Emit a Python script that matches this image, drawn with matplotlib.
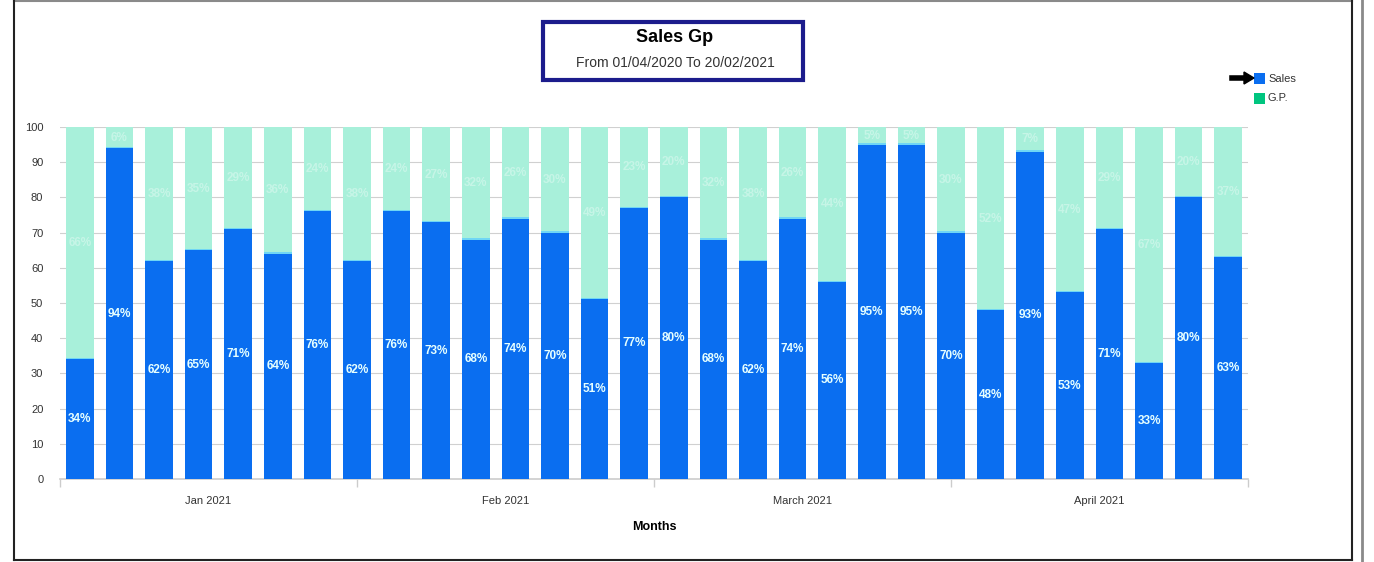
import matplotlib
matplotlib.use("Agg")
import matplotlib.pyplot as plt
from matplotlib.patches import Rectangle
import numpy as np

sales = [34, 94, 62, 65, 71, 64, 76, 62, 76, 73, 68, 74, 70, 51, 77,
         80, 68, 62, 74, 56, 95, 95, 70, 48, 93, 53, 71, 33, 80, 63]
gp = [100 - s for s in sales]
months = ["Jan 2021", "Feb 2021", "March 2021", "April 2021"]
yticks = [0, 10, 20, 30, 40, 50, 60, 70, 80, 90, 100]

W, H = 1374, 562
fig = plt.figure(figsize=(W / 100, H / 100), dpi=100)
plt.rcParams['font.family'] = ['Liberation Sans', 'DejaVu Sans']

def fx(px):
    return px / W

def fy(py):
    return 1 - py / H

# outer frame lines
fig.add_artist(plt.Line2D([fx(14), fx(1352)], [fy(1), fy(1)], color="#8a8a8a", lw=1.5))
fig.add_artist(plt.Line2D([fx(14), fx(14)], [fy(1), fy(560)], color="#222222", lw=1.5))
fig.add_artist(plt.Line2D([fx(14), fx(1352)], [fy(559.5), fy(559.5)], color="#222222", lw=1.5))
fig.add_artist(plt.Line2D([fx(1352), fx(1352)], [fy(1), fy(560)], color="#222222", lw=1.5))
fig.add_artist(plt.Line2D([fx(1362), fx(1362)], [fy(0), fy(562)], color="#8a8a8a", lw=2))

ax = fig.add_axes([fx(60), fy(479), fx(1248) - fx(60), fy(127) - fy(479)])
x = np.arange(len(sales))
blue = "#0A6EF0"
green = "#A8F0DA"
ax.bar(x, sales, width=0.7, color=blue, edgecolor="none", zorder=3)
ax.bar(x, gp, width=0.7, bottom=sales, color=green, edgecolor="none", zorder=3)
ax.bar(x, [0.35] * len(sales), width=0.7, bottom=sales, color="#6fd6f5", edgecolor="none", zorder=3.5)

for i, (s, g) in enumerate(zip(sales, gp)):
    ax.text(i, s / 2, f"{s}%", ha="center", va="center", color="#e6ffff",
            fontsize=8.5, fontweight="bold", zorder=5)
    ax.text(i, s + g / 2, f"{g}%", ha="center", va="center", color="white",
            alpha=0.35, fontsize=8.5, fontweight="bold", zorder=5)

ax.set_xlim(-0.5, len(sales) - 0.5)
ax.set_ylim(0, 100)
ax.set_yticks(yticks)
ax.set_yticklabels([str(v) for v in yticks], fontsize=8, color="#333333")
ax.yaxis.grid(True, color="#d0d0d0", lw=0.8, zorder=0)
ax.tick_params(axis="y", length=0, pad=12)
for sp in ["top", "right", "left"]:
    ax.spines[sp].set_visible(False)
ax.spines["bottom"].set_color("#cccccc")
ax.spines["bottom"].set_linewidth(1.2)

bounds = [-0.5, 7.0, 14.5, 22.0, 29.5]
ax.set_xticks(bounds)
ax.set_xticklabels([])
ax.tick_params(axis="x", length=6, color="#cccccc", width=1)
centers = [(bounds[i] + bounds[i + 1]) / 2 for i in range(4)]
ax.set_xticks(centers, minor=True)
ax.set_xticklabels(months, minor=True, fontsize=8, color="#333333")
ax.tick_params(axis="x", which="minor", length=0, pad=12)
ax.set_xlabel("Months", fontsize=9, fontweight="bold", labelpad=11)

# title box
fig.add_artist(Rectangle((fx(543), fy(80)), fx(803) - fx(543), fy(22) - fy(80),
                         fill=False, edgecolor="#1c1c8c", lw=3))
fig.text(fx(675), fy(38), "Sales Gp", ha="center", va="center", fontsize=13, fontweight="bold")
fig.text(fx(675), fy(63), "From 01/04/2020 To 20/02/2021", ha="center", va="center",
         fontsize=10, color="#333333")

# legend
fig.add_artist(Rectangle((fx(1254), fy(84)), fx(11), fy(73) - fy(84), facecolor=blue, edgecolor="none"))
fig.add_artist(Rectangle((fx(1254), fy(104)), fx(11), fy(93) - fy(104), facecolor="#00C57F", edgecolor="none"))
fig.text(fx(1268), fy(79), "Sales", ha="left", va="center", fontsize=8, color="#333333")
fig.text(fx(1268), fy(98), "G.P.", ha="left", va="center", fontsize=8, color="#333333")
fig.add_artist(plt.Line2D([fx(1232), fx(1246)], [fy(78), fy(78)], color="black", lw=4))
fig.patches.append(matplotlib.patches.Polygon(
    [[fx(1244), fy(72)], [fx(1254), fy(78)], [fx(1244), fy(84)]],
    closed=True, facecolor="black", edgecolor="black", transform=fig.transFigure))

fig.savefig("out.png", dpi=100)
